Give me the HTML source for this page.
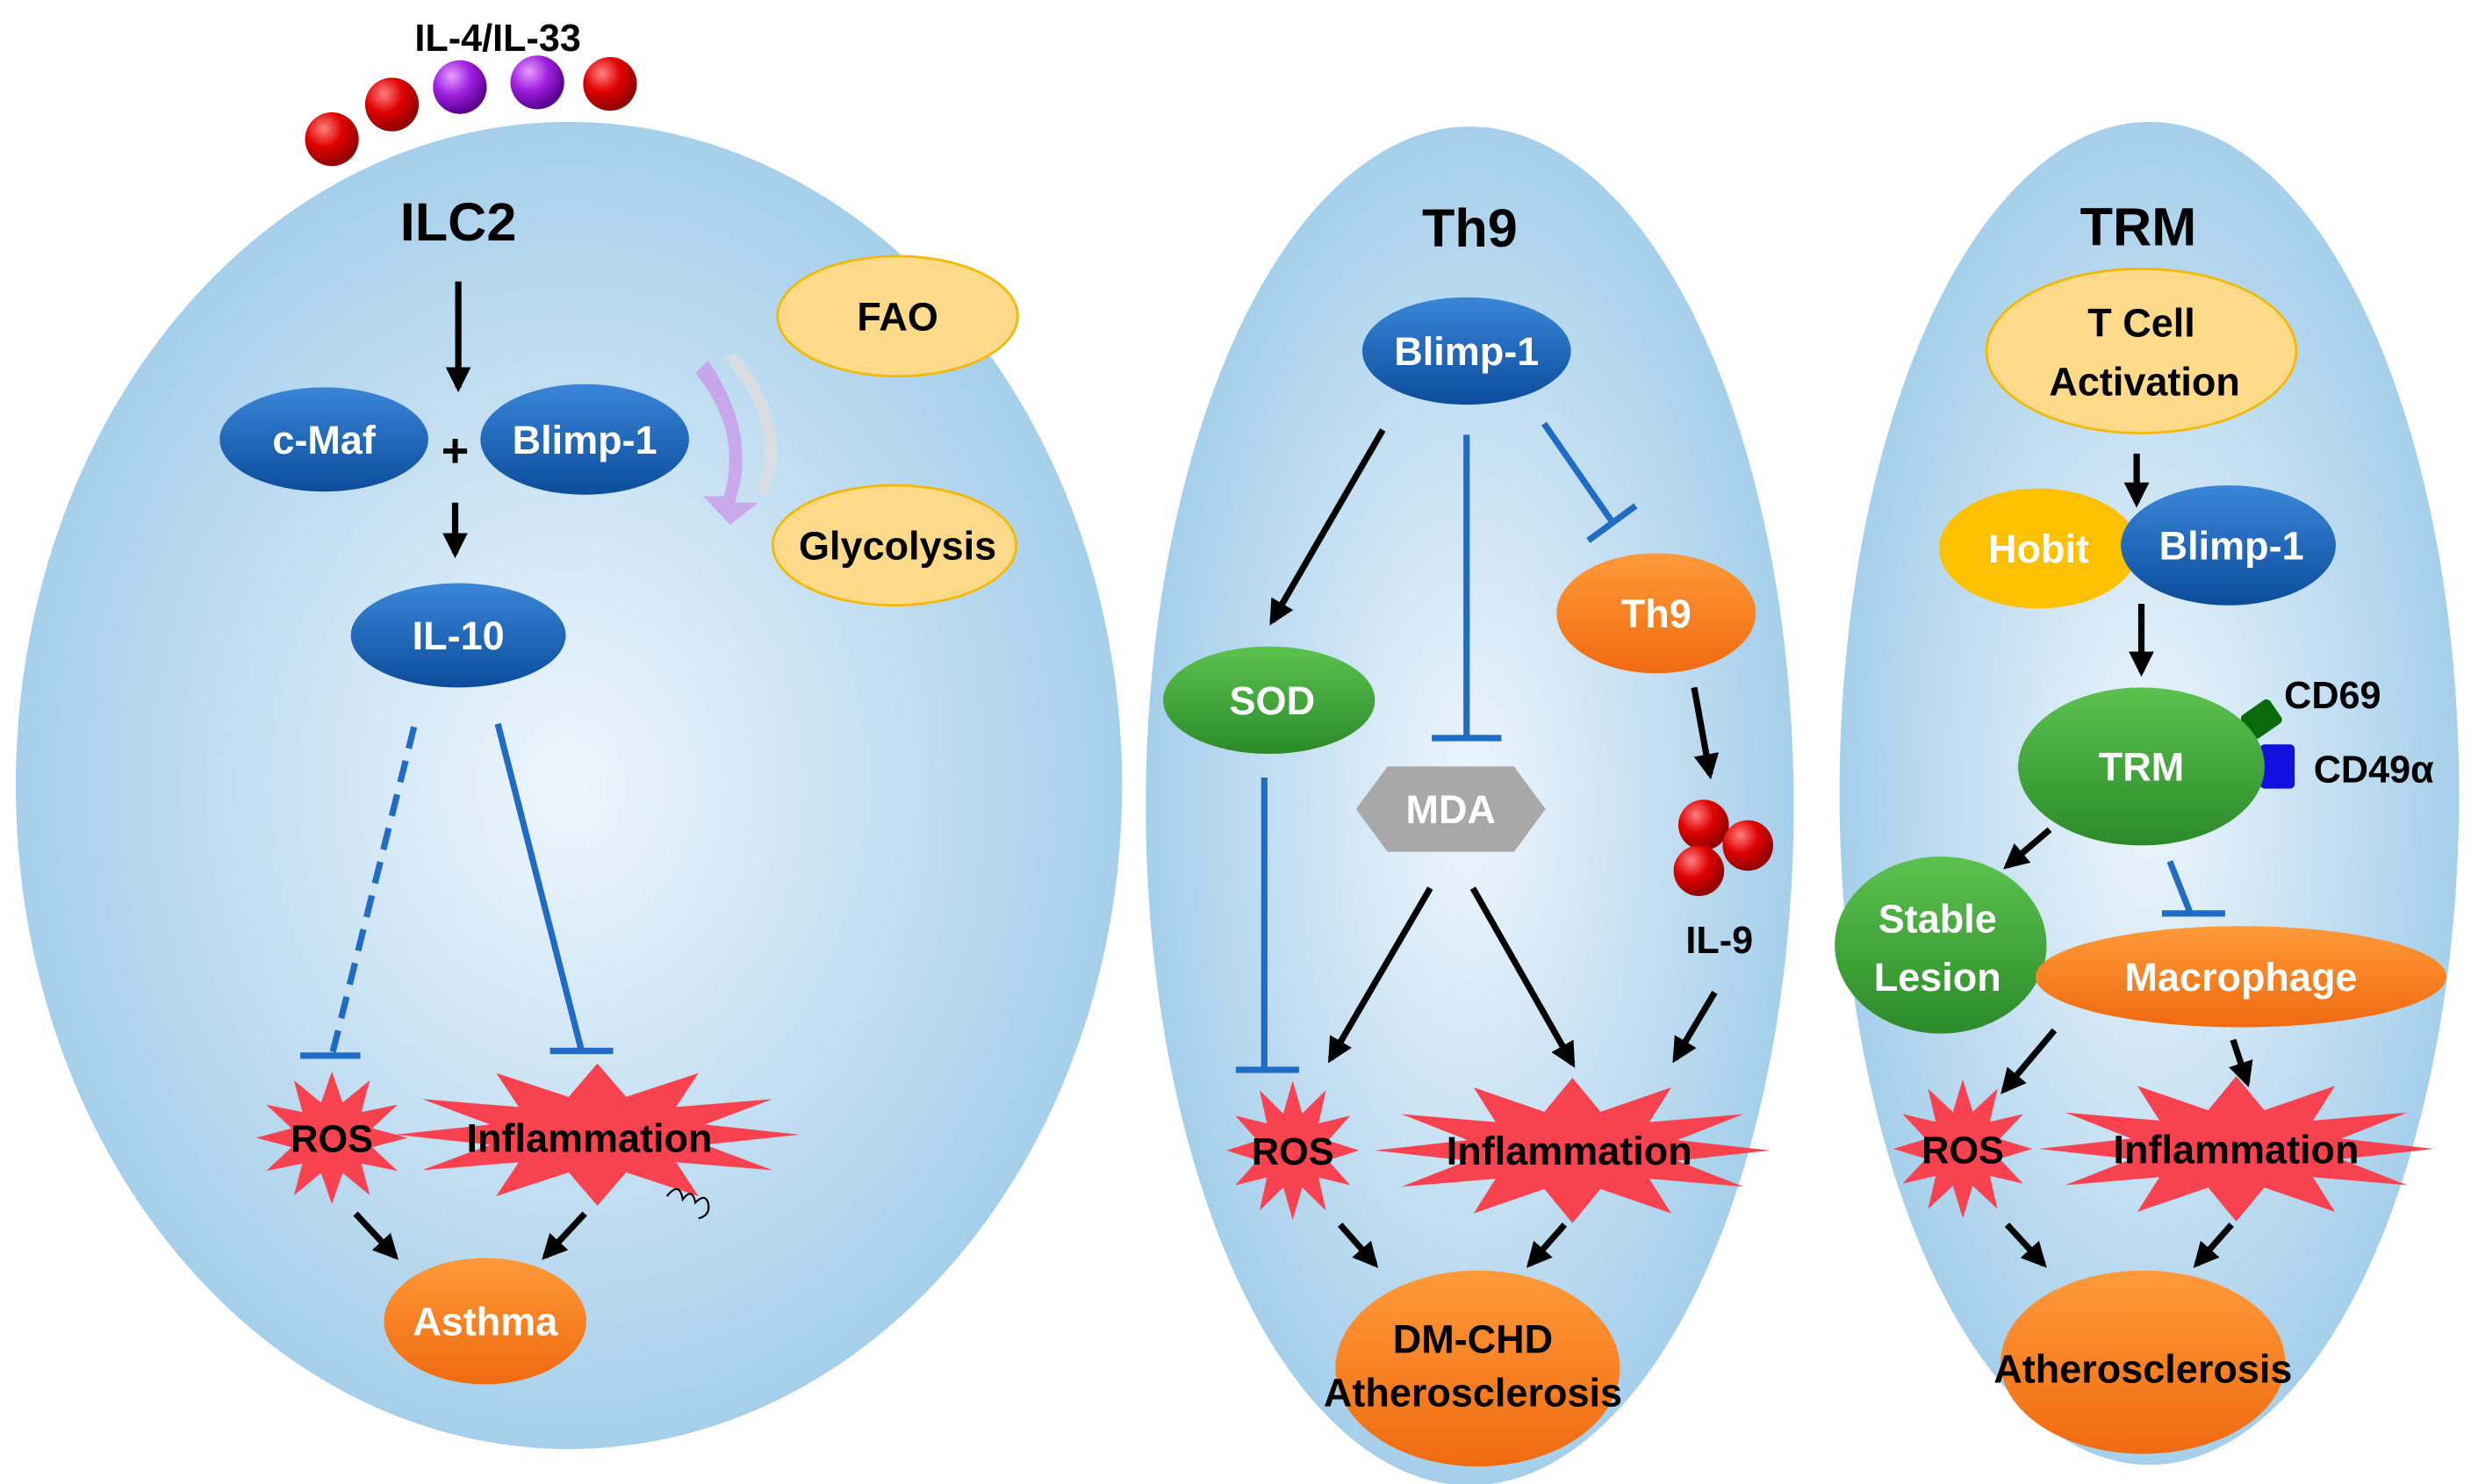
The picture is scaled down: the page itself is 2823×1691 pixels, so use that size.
<!DOCTYPE html>
<html><head><meta charset="utf-8"><style>html,body{margin:0;padding:0;background:#fff}svg{display:block}</style></head>
<body>
<svg width="2823" height="1691" viewBox="0 0 1568 939" xmlns="http://www.w3.org/2000/svg" font-family="Liberation Sans, sans-serif" font-weight="bold">
<defs>
<radialGradient id="cell" cx="50%" cy="50%" r="50%"><stop offset="0" stop-color="#eef6fc"/><stop offset="1" stop-color="#a6cfeb"/></radialGradient>
<linearGradient id="blue" x1="0" y1="0" x2="0" y2="1"><stop offset="0" stop-color="#3a86d8"/><stop offset="1" stop-color="#0c4c9c"/></linearGradient>
<linearGradient id="green" x1="0" y1="0" x2="0" y2="1"><stop offset="0" stop-color="#5cc24e"/><stop offset="1" stop-color="#2c8a2a"/></linearGradient>
<linearGradient id="orange" x1="0" y1="0" x2="0" y2="1"><stop offset="0" stop-color="#ff9a3a"/><stop offset="1" stop-color="#f06a10"/></linearGradient>
<radialGradient id="red" cx="35%" cy="30%" r="70%"><stop offset="0" stop-color="#ff8080"/><stop offset=".5" stop-color="#e00000"/><stop offset="1" stop-color="#900000"/></radialGradient>
<radialGradient id="purple" cx="35%" cy="30%" r="70%"><stop offset="0" stop-color="#e6a0ff"/><stop offset=".5" stop-color="#a020e0"/><stop offset="1" stop-color="#5a0090"/></radialGradient>
<marker id="ah" viewBox="0 0 10 10" refX="8" refY="5" markerWidth="4" markerHeight="4" orient="auto"><path d="M0,0 L10,5 L0,10 z" fill="#000"/></marker>
<polygon id="star" fill="#f9424f" points="1,0 .531,.142 .866,.5 .389,.389 .5,.866 .142,.531 0,1 -.142,.531 -.5,.866 -.389,.389 -.866,.5 -.531,.142 -1,0 -.531,-.142 -.866,-.5 -.389,-.389 -.5,-.866 -.142,-.531 0,-1 .142,-.531 .5,-.866 .389,-.389 .866,-.5 .531,-.142"/>
</defs>
<g stroke="none">
<ellipse cx="360" cy="497" rx="350" ry="420" fill="url(#cell)"/>
<ellipse cx="930" cy="510" rx="205" ry="430" fill="url(#cell)"/>
<ellipse cx="1360" cy="502" rx="196" ry="425" fill="url(#cell)"/>
</g>
<!-- ILC2 -->
<text x="315" y="32" font-size="24" text-anchor="middle">IL-4/IL-33</text>
<circle cx="210" cy="88" r="17" fill="url(#red)"/><circle cx="248" cy="66" r="17" fill="url(#red)"/><circle cx="386" cy="53" r="17" fill="url(#red)"/>
<circle cx="291" cy="55" r="17" fill="url(#purple)"/><circle cx="340" cy="52" r="17" fill="url(#purple)"/>
<text x="290" y="152" font-size="34" text-anchor="middle">ILC2</text>
<g stroke="#000" stroke-width="4" marker-end="url(#ah)" fill="none">
<line x1="290" y1="178" x2="290" y2="245"/><line x1="288" y1="318" x2="288" y2="350"/>
<line x1="225" y1="768" x2="250" y2="795"/><line x1="370" y1="768" x2="345" y2="795"/>
<line x1="875" y1="272" x2="805" y2="393"/><line x1="905" y1="562" x2="842" y2="670"/><line x1="932" y1="562" x2="995" y2="673"/>
<line x1="1072" y1="435" x2="1082" y2="490"/><line x1="1085" y1="628" x2="1060" y2="670"/>
<line x1="848" y1="775" x2="870" y2="800"/><line x1="990" y1="775" x2="968" y2="800"/>
<line x1="1352" y1="287" x2="1352" y2="318"/><line x1="1355" y1="382" x2="1355" y2="425"/>
<line x1="1297" y1="525" x2="1270" y2="548"/><line x1="1300" y1="652" x2="1268" y2="690"/><line x1="1413" y1="658" x2="1422" y2="685"/>
<line x1="1270" y1="775" x2="1293" y2="800"/><line x1="1412" y1="775" x2="1390" y2="800"/>
</g>
<g stroke="#1f6bc5" stroke-width="4" fill="none">
<line x1="262" y1="460" x2="210" y2="668" stroke-dasharray="14,8"/><line x1="190" y1="668" x2="228" y2="668"/>
<line x1="315" y1="458" x2="368" y2="665"/><line x1="348" y1="665" x2="388" y2="665"/>
<line x1="928" y1="275" x2="928" y2="467"/><line x1="906" y1="467" x2="950" y2="467"/>
<line x1="977" y1="268" x2="1020" y2="330"/><line x1="1005" y1="342" x2="1035" y2="320"/>
<line x1="800" y1="492" x2="800" y2="677"/><line x1="782" y1="677" x2="822" y2="677"/>
<line x1="1373" y1="545" x2="1386" y2="578"/><line x1="1368" y1="578" x2="1408" y2="578"/>
</g>
<ellipse cx="205" cy="278" rx="66" ry="33" fill="url(#blue)"/><text x="205" y="287" font-size="25" fill="#fff" text-anchor="middle">c-Maf</text>
<text x="288" y="295" font-size="30" text-anchor="middle">+</text>
<ellipse cx="370" cy="278" rx="66" ry="35" fill="url(#blue)"/><text x="370" y="287" font-size="25" fill="#fff" text-anchor="middle">Blimp-1</text>
<ellipse cx="290" cy="402" rx="68" ry="33" fill="url(#blue)"/><text x="290" y="411" font-size="25" fill="#fff" text-anchor="middle">IL-10</text>
<ellipse cx="568" cy="200" rx="76" ry="38" fill="#fdd98a" stroke="#f5b800" stroke-width="1.5"/><text x="568" y="209" font-size="25" text-anchor="middle">FAO</text>
<ellipse cx="566" cy="345" rx="77" ry="38" fill="#fdd98a" stroke="#f5b800" stroke-width="1.5"/><text x="568" y="354" font-size="25" text-anchor="middle">Glycolysis</text>
<path d="M448,228 Q480,275 465,318 L480,318 L462,332 L445,314 L458,314 Q470,272 440,236 z" fill="#c99ae8" opacity=".8"/>
<path d="M462,225 Q500,270 482,312" stroke="#ddd" stroke-width="8" fill="none" opacity=".8"/>
<use href="#star" transform="translate(210,720) scale(48,42)"/>
<use href="#star" transform="translate(378,718) scale(128,45)"/>
<text x="210" y="729" font-size="24" text-anchor="middle">ROS</text>
<text x="373" y="729" font-size="25" text-anchor="middle">Inflammation</text>
<path d="M422,757 q8,-10 10,2 q6,-8 8,2 q6,-6 8,0 q2,8 -6,10" stroke="#000" stroke-width="1.2" fill="none"/>
<ellipse cx="307" cy="836" rx="64" ry="40" fill="url(#orange)"/><text x="307" y="845" font-size="25" fill="#fff" text-anchor="middle">Asthma</text>
<!-- Th9 -->
<text x="930" y="156" font-size="34" text-anchor="middle">Th9</text>
<ellipse cx="928" cy="222" rx="66" ry="34" fill="url(#blue)"/><text x="928" y="231" font-size="25" fill="#fff" text-anchor="middle">Blimp-1</text>
<ellipse cx="1048" cy="388" rx="63" ry="38" fill="url(#orange)"/><text x="1048" y="397" font-size="25" fill="#fff" text-anchor="middle">Th9</text>
<ellipse cx="803" cy="443" rx="67" ry="34" fill="url(#green)"/><text x="805" y="452" font-size="25" fill="#fff" text-anchor="middle">SOD</text>
<polygon points="878,485 958,485 978,512 958,539 878,539 858,512" fill="#a8a8a8"/><text x="918" y="521" font-size="25" fill="#fff" text-anchor="middle">MDA</text>
<circle cx="1078" cy="522" r="16" fill="url(#red)"/><circle cx="1106" cy="535" r="16" fill="url(#red)"/><circle cx="1075" cy="551" r="16" fill="url(#red)"/>
<text x="1088" y="603" font-size="24" text-anchor="middle">IL-9</text>
<use href="#star" transform="translate(818,728) scale(42,44)"/>
<use href="#star" transform="translate(995,728) scale(125,46)"/>
<text x="818" y="737" font-size="24" text-anchor="middle">ROS</text>
<text x="993" y="737" font-size="25" text-anchor="middle">Inflammation</text>
<ellipse cx="935" cy="866" rx="90" ry="62" fill="url(#orange)"/>
<text x="932" y="856" font-size="25" text-anchor="middle">DM-CHD</text>
<text x="932" y="890" font-size="25" text-anchor="middle">Atherosclerosis</text>
<!-- TRM -->
<text x="1353" y="155" font-size="34" text-anchor="middle">TRM</text>
<ellipse cx="1355" cy="222" rx="98" ry="52" fill="#fdd98a" stroke="#f5b800" stroke-width="1.5"/>
<text x="1355" y="213" font-size="25" text-anchor="middle">T Cell</text><text x="1357" y="250" font-size="25" text-anchor="middle">Activation</text>
<ellipse cx="1290" cy="347" rx="63" ry="38" fill="#ffc000"/><text x="1290" y="356" font-size="25" fill="#fff" text-anchor="middle">Hobit</text>
<ellipse cx="1410" cy="345" rx="68" ry="38" fill="url(#blue)"/><text x="1412" y="354" font-size="25" fill="#fff" text-anchor="middle">Blimp-1</text>
<rect x="1420" y="446" width="22" height="18" rx="3" fill="#0a6a0a" transform="rotate(-35 1431 455)"/>
<rect x="1430" y="471" width="22" height="28" rx="3" fill="#1010e0"/>
<ellipse cx="1355" cy="485" rx="78" ry="50" fill="url(#green)"/><text x="1355" y="494" font-size="25" fill="#fff" text-anchor="middle">TRM</text>
<text x="1476" y="448" font-size="24" text-anchor="middle">CD69</text>
<text x="1502" y="495" font-size="24" text-anchor="middle">CD49α</text>
<ellipse cx="1228" cy="598" rx="67" ry="56" fill="url(#green)"/>
<text x="1226" y="590" font-size="25" fill="#fff" text-anchor="middle">Stable</text><text x="1226" y="627" font-size="25" fill="#fff" text-anchor="middle">Lesion</text>
<ellipse cx="1418" cy="618" rx="130" ry="32" fill="url(#orange)"/><text x="1418" y="627" font-size="25" fill="#fff" text-anchor="middle">Macrophage</text>
<use href="#star" transform="translate(1242,727) scale(44,44)"/>
<use href="#star" transform="translate(1415,727) scale(125,46)"/>
<text x="1242" y="736" font-size="24" text-anchor="middle">ROS</text>
<text x="1415" y="736" font-size="25" text-anchor="middle">Inflammation</text>
<ellipse cx="1356" cy="862" rx="90" ry="58" fill="url(#orange)"/>
<text x="1356" y="875" font-size="25" text-anchor="middle">Atherosclerosis</text>
</svg>
</body></html>
